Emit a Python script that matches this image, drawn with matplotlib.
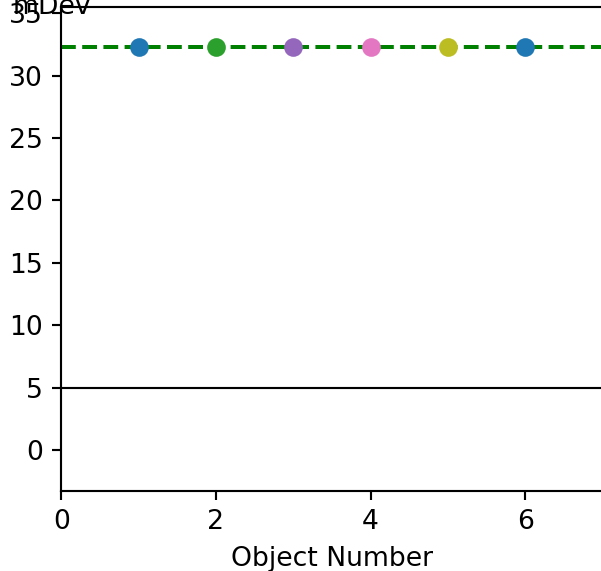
import matplotlib.pyplot as plt

# values
object_number = [1, 2, 3, 4, 5, 6]
dev_values = [32.3, 32.3, 32.3, 32.3, 32.3, 32.3]
point_colors = ["tab:blue", "tab:green", "tab:purple", "tab:pink", "tab:olive", "tab:blue"]
mean_dev = 32.3
lower_limit = 5

dpi = 192
fig = plt.figure(figsize=(601 / dpi, 571 / dpi), dpi=dpi)
ax = fig.add_axes([0.1020, 0.1406, 0.9005, 0.8471])

for x, y, c in zip(object_number, dev_values, point_colors):
    ax.scatter(x, y, color=c, zorder=3)

ax.axhline(mean_dev, color="g", linestyle="--", linewidth=1.5, zorder=2)
ax.axhline(lower_limit, color="k", linewidth=0.8)

ax.set_xlim(0, 7)
ax.set_ylim(-3.26, 35.5)
ax.set_yticks(range(0, 40, 5))
ax.set_xticks([0, 2, 4, 6])
ax.set_xlabel("Object Number")

fig.text(91 / 601, 1 - 13.5 / 571, "mDev", ha="right", va="baseline")

fig.savefig("out.png", dpi=dpi)
